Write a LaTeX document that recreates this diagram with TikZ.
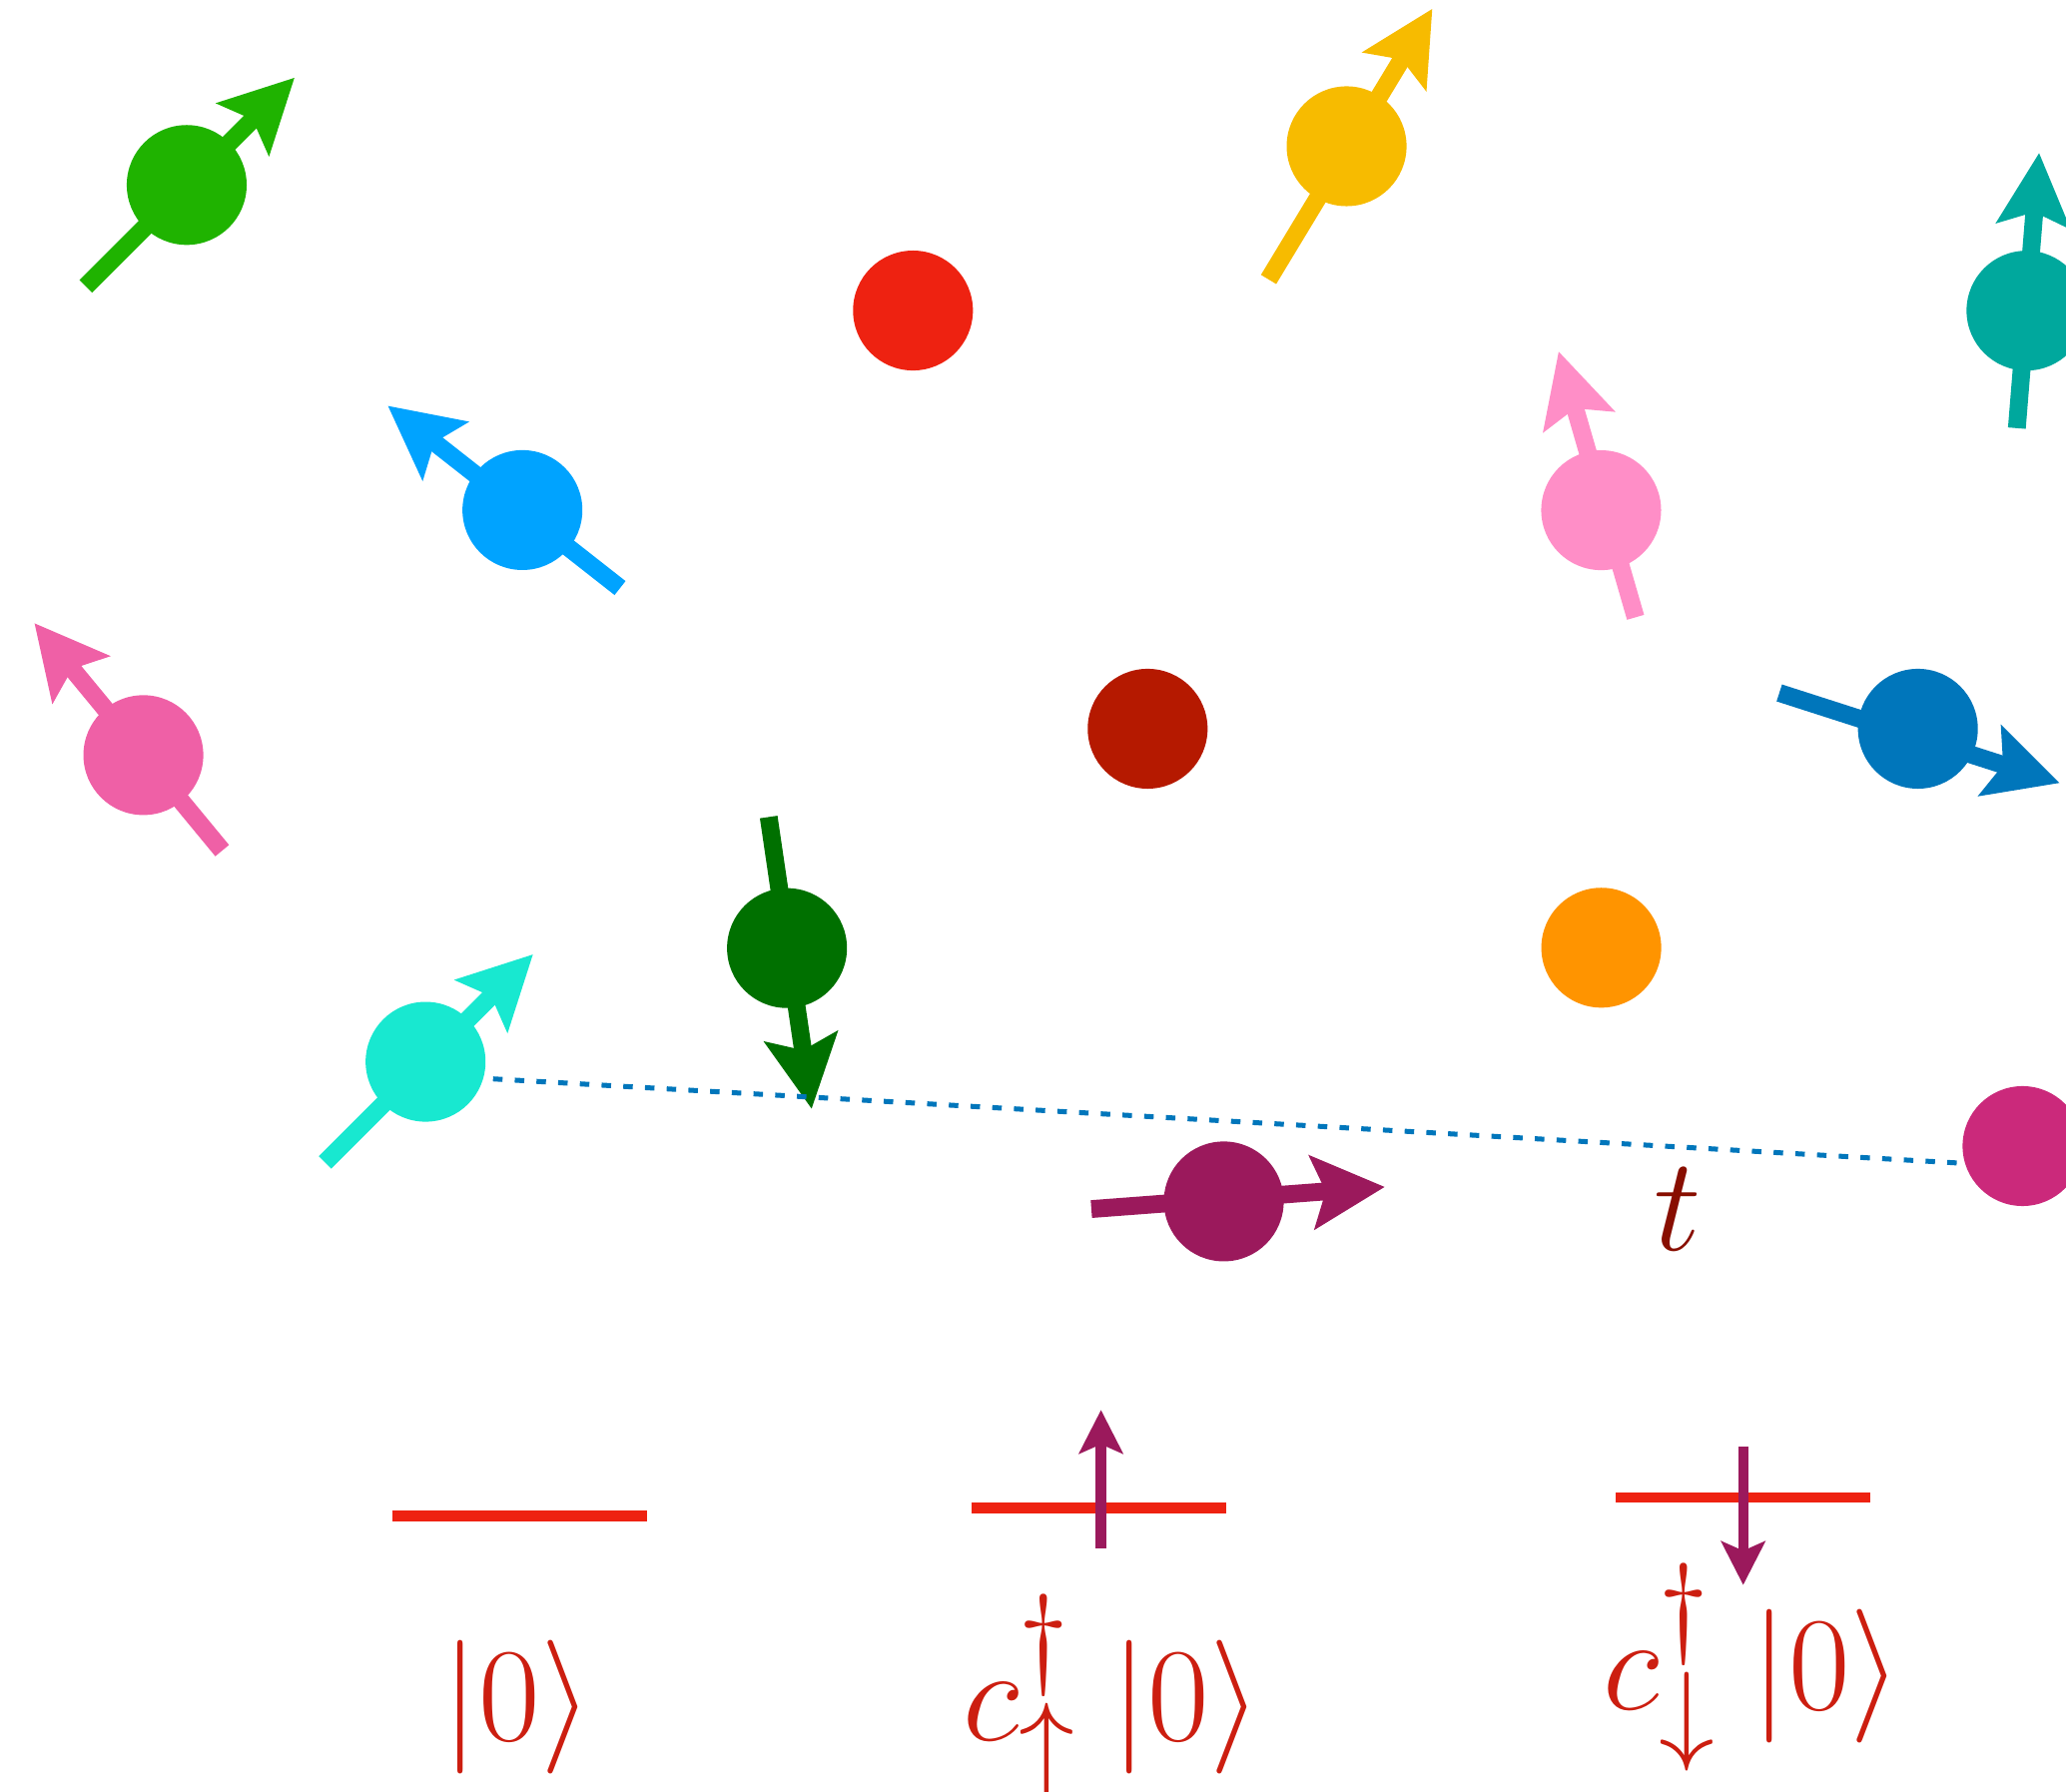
\documentclass[tikz,border=0pt]{standalone}
\usepackage{graphicx}
\usetikzlibrary{arrows.meta}

\definecolor{cGreen}{RGB}{31,179,0}
\definecolor{cRed}{RGB}{238,34,17}
\definecolor{cYellow}{RGB}{247,187,0}
\definecolor{cTeal}{RGB}{0,168,157}
\definecolor{cSky}{RGB}{0,163,255}
\definecolor{cPink}{RGB}{255,142,199}
\definecolor{cHotPink}{RGB}{239,96,166}
\definecolor{cDarkRed}{RGB}{181,25,0}
\definecolor{cSteel}{RGB}{0,118,187}
\definecolor{cDarkGreen}{RGB}{0,112,0}
\definecolor{cOrange}{RGB}{255,148,0}
\definecolor{cTurq}{RGB}{24,232,208}
\definecolor{cPurple}{RGB}{155,25,92}
\definecolor{cMagenta}{RGB}{203,41,123}
\definecolor{cLabel}{RGB}{204,30,16}
\definecolor{cHop}{RGB}{136,14,0}

\newcommand{\bigmath}[1]{\scalebox{1.16}{$#1$}}

\begin{document}
\begin{tikzpicture}[
        x=0.1mm, y=-0.1mm,
        site/.style={
            circle,
            inner sep=0pt,
            minimum size=9.1mm
        },
        spin/.style={
            -{Stealth[length=5.5mm, width=5.5mm, inset=1mm]},
            line width=1.35mm
        },
        level/.style={
            line width=0.78mm,
            draw=cRed
        },
        occ/.style={
            -{Stealth[length=3.3mm, width=3.3mm, inset=0.7mm]},
            line width=0.78mm,
            draw=cPurple
        },
        hop/.style={
            draw=cSteel,
            line width=0.38mm,
            dash pattern=on 0.72mm off 0.93mm
        },
        lbl/.style={
            inner sep=0pt,
            anchor=base,
            text=cLabel,
            font=\fontsize{24.88}{30}\selectfont
        }
    ]

    \useasboundingbox (0,0) rectangle (1568,1360);

    % Sites du reseau
    \node[site, fill=cGreen] (sGreen) at (141.7,140.4) {};
    \node[site, fill=cRed] (sRed) at (692.9,235.7) {};
    \node[site, fill=cYellow] (sYellow) at (1022,111) {};
    \node[site, fill=cTeal] (sTeal) at (1538,235.8) {};
    \node[site, fill=cSky] (sSky) at (396.5,387.2) {};
    \node[site, fill=cPink] (sPink) at (1215.2,387.3) {};
    \node[site, fill=cHotPink] (sHotPink) at (108.8,573.2) {};
    \node[site, fill=cDarkRed] (sDarkRed) at (871,553.2) {};
    \node[site, fill=cSteel] (sSteel) at (1455.6,553.2) {};
    \node[site, fill=cDarkGreen] (sDarkGreen) at (597.3,719.7) {};
    \node[site, fill=cOrange] (sOrange) at (1215.3,719.4) {};
    \node[site, fill=cTurq] (sTurq) at (323,806) {};
    \node[site, fill=cPurple] (sPurple) at (928.8,912) {};
    \node[site, fill=cMagenta] (sMagenta) at (1535,870) {};

    % Spins
    \draw[spin, draw=cGreen] ([shift={(-76.6,77)}]sGreen.center) -- ([shift={(81.9,-81.5)}]sGreen.center);
    \draw[spin, draw=cYellow] ([shift={(-59.2,101.1)}]sYellow.center) -- ([shift={(65.1,-104.4)}]sYellow.center);
    \draw[spin, draw=cTeal] ([shift={(-7.3,89.2)}]sTeal.center) -- ([shift={(9.6,-119.8)}]sTeal.center);
    \draw[spin, draw=cSky] ([shift={(74.1,59.2)}]sSky.center) -- ([shift={(-102.2,-79.2)}]sSky.center);
    \draw[spin, draw=cPink] ([shift={(26.1,81.3)}]sPink.center) -- ([shift={(-32.3,-120.6)}]sPink.center);
    \draw[spin, draw=cHotPink] ([shift={(59.8,72.5)}]sHotPink.center) -- ([shift={(-82.7,-100.2)}]sHotPink.center);
    \draw[spin, draw=cSteel] ([shift={(-105.2,-27.2)}]sSteel.center) -- ([shift={(107.6,41.2)}]sSteel.center);
    \draw[spin, draw=cDarkGreen] ([shift={(-13.9,-99.5)}]sDarkGreen.center) -- ([shift={(18.7,122.1)}]sDarkGreen.center);
    \draw[spin, draw=cTurq] ([shift={(-76.3,76.4)}]sTurq.center) -- ([shift={(81.6,-81.6)}]sTurq.center);
    \draw[spin, draw=cPurple] ([shift={(-100.5,5.8)}]sPurple.center) -- ([shift={(122.3,-11)}]sPurple.center);

    % Saut
    \draw[hop] ([shift={(5,13)}]sTurq.east) -- ([shift={(0,13)}]sMagenta.west);
    \node[inner sep=0pt, text=cHop, font=\fontsize{24.88}{30}\selectfont] (tHop) at (1273,918) {\bigmath{t}};

    % Niveaux
    \draw[level] (297.5,1150.8) -- (490.8,1150.8);
    \draw[level] (737.2,1144.8) -- (930.5,1144.8);
    \draw[level] (1226.5,1136.6) -- (1419.8,1136.6);
    \draw[occ] (835.6,1175.4) -- (835.6,1070.3);
    \draw[occ] (1323,1098) -- (1323,1203.2);

    \node[lbl] (kVac) at (392.5,1321) {\bigmath{|0\rangle}};
    \node[lbl] (kUp) at (844,1321) {\bigmath{c^{\dagger}_{\uparrow}\mkern4.5mu|0\rangle}};
    \node[lbl] (kDown) at (1330,1297.7) {\bigmath{c^{\dagger}_{\downarrow}\mkern4.5mu|0\rangle}};

\end{tikzpicture}
\end{document}
